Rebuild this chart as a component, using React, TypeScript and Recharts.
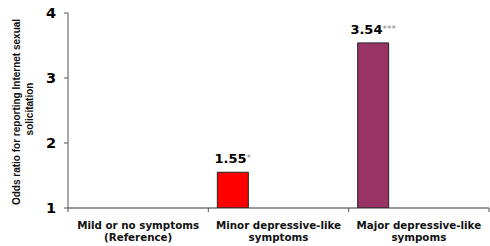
import React from "react";
import { BarChart, Bar, XAxis, YAxis, Cell, LabelList } from "recharts";

const categories = ["Mild or no symptoms|(Reference)", "Minor depressive-like|symptoms", "Major depressive-like|sympoms"];
const oddsRatios = [1, 1.55, 3.54];
const significance = ["", "*", "***"];
const barColors = ["#FFFFFF", "#FF0000", "#993366"];
const yTicks = [1, 2, 3, 4];

const data = categories.map((c, i) => ({
  cat: c,
  value: oddsRatios[i],
  sig: significance[i],
  dummy: null,
}));

const FONT = "'DejaVu Sans', Verdana, sans-serif";
const TITLE_FONT = "'Liberation Sans', Arial, sans-serif";

const CatTick = (props: any) => {
  const { x, y, payload, index, visibleTicksCount } = props;
  const lines = String(payload.value).split("|");
  const half = Number(payload.offset) || 0;
  const top = y - 8;
  return (
    <g>
      <line x1={x - half} x2={x - half} y1={top} y2={top + 4} stroke="#555" />
      {index === visibleTicksCount - 1 && (
        <line x1={x + half} x2={x + half} y1={top} y2={top + 4} stroke="#555" />
      )}
      <g transform={`translate(${x},${top})`}>
        {lines.map((l: string, i: number) => (
          <text key={i} x={0} y={21 + i * 12} textAnchor="middle" fontFamily={FONT} fontWeight="bold" fontSize={10.3} fill="#111">
            {l}
          </text>
        ))}
      </g>
    </g>
  );
};

const ValueLabel = (props: any) => {
  const { x, y, width, value } = props;
  const i = oddsRatios.indexOf(Number(value));
  if (i <= 0) return null;
  return (
    <text x={x + width / 2} y={y - 9} textAnchor="middle" fontFamily={FONT} fontWeight="bold" fontSize={13} fill="#000">
      {Number(value).toFixed(2)}
      <tspan fontSize={9} fontWeight="normal" fill="#888" dy={-2}>{significance[i]}</tspan>
    </text>
  );
};

export default function App() {
  return (
    <div style={{ position: "absolute", left: 0, top: 0, width: 490, height: 246, background: "#fff" }}>
      <BarChart width={490} height={246} data={data} margin={{ top: 13, right: 1, bottom: 0, left: 0 }} barSize={31} barGap={61}>
        <YAxis
          type="number"
          domain={[1, 4]}
          ticks={yTicks}
          width={68}
          axisLine={{ stroke: "#555" }}
          tickLine={{ stroke: "#555" }}
          tickSize={4}
          tick={{ fontFamily: FONT, fontWeight: "bold", fontSize: 14.5, fill: "#000", dx: -6 }}
          allowDataOverflow
        />
        <XAxis
          dataKey="cat"
          height={38}
          axisLine={{ stroke: "#333" }}
          tickLine={false}
          interval={0}
          tick={<CatTick />}
        />
        <text x={20} y={112} transform="rotate(-90 20 112)" textAnchor="middle" fontFamily={TITLE_FONT} fontWeight="bold" fontSize={10} fill="#111">
          Odds ratio for reporting Internet sexual
        </text>
        <text x={33} y={109} transform="rotate(-90 33 109)" textAnchor="middle" fontFamily={TITLE_FONT} fontWeight="bold" fontSize={10} fill="#111">
          solicitation
        </text>
        <Bar dataKey="value" isAnimationActive={false} stroke="#222" strokeWidth={1}>
          {data.map((d, i) => (
            <Cell key={i} fill={barColors[i]} stroke={i === 0 ? "none" : "#222"} />
          ))}
          <LabelList dataKey="value" content={<ValueLabel />} />
        </Bar>
        <Bar dataKey="dummy" isAnimationActive={false} fill="none" />
      </BarChart>
    </div>
  );
}
